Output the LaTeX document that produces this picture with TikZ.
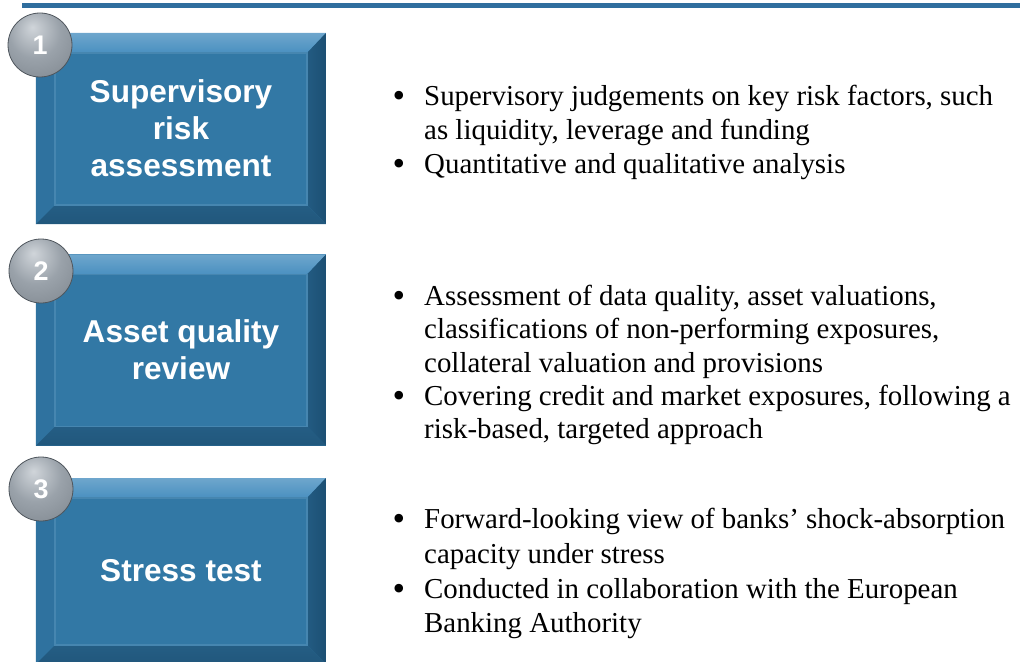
\documentclass[tikz,border=0pt]{standalone}
\usepackage{fontspec}
\setmainfont{Liberation Serif}
\newfontfamily\boxfont{Liberation Sans}
\definecolor{topline}{HTML}{2F6E9E}
\definecolor{face}{HTML}{3278A5}
\definecolor{bevtop}{HTML}{4A90C0}
\definecolor{bevleft}{HTML}{2F729F}
\definecolor{bevright}{HTML}{1C4F73}
\definecolor{bevbot}{HTML}{21577C}
\definecolor{inedge}{HTML}{4686B0}
\definecolor{silverA}{HTML}{D0D5DA}
\definecolor{silverB}{HTML}{9AA2AA}
\definecolor{silverC}{HTML}{7E868E}
\definecolor{silverD}{HTML}{4E555C}
\pgfdeclareradialshading{silverball}{\pgfpoint{-6bp}{14bp}}{%
  color(0bp)=(silverA); color(20bp)=(silverB); color(42bp)=(silverC);
  color(56bp)=(silverD); color(70bp)=(silverD)}
\begin{document}
\begin{tikzpicture}[x=1bp,y=-1bp,
  panel/.style={minimum width=290bp, minimum height=191bp, inner sep=0pt,
    fill=face, text=white, align=center,
    font=\boxfont\bfseries\fontsize{31.7}{37}\selectfont,
    path picture={
      \coordinate (NW) at (path picture bounding box.north west);
      \coordinate (NE) at (path picture bounding box.north east);
      \coordinate (SW) at (path picture bounding box.south west);
      \coordinate (SE) at (path picture bounding box.south east);
      \coordinate (iNW) at ([xshift=19bp,yshift=-20bp]NW);
      \coordinate (iNE) at ([xshift=-19bp,yshift=-20bp]NE);
      \coordinate (iSW) at ([xshift=19bp,yshift=19bp]SW);
      \coordinate (iSE) at ([xshift=-19bp,yshift=19bp]SE);
      \shade[top color=bevtop!80!white, bottom color=bevtop] (NW) -- (NE) -- (iNE) -- (iNW) -- cycle;
      \fill[bevleft] (NW) -- (iNW) -- (iSW) -- (SW) -- cycle;
      \shade[left color=bevright!70!face, right color=bevright] (NE) -- (SE) -- (iSE) -- (iNE) -- cycle;
      \shade[top color=bevbot!80!face, bottom color=bevbot] (SW) -- (iSW) -- (iSE) -- (SE) -- cycle;
      \draw[inedge, line width=1.2bp] (iNW) rectangle (iSE);
    }},
  badge/.style={circle, minimum size=64bp, inner sep=0pt, shading=silverball,
    text=white, draw=silverD, line width=0.8bp,
    font=\boxfont\bfseries\fontsize{27}{30}\selectfont},
  bul/.style={anchor=base, inner sep=0pt, font=\fontsize{36}{36}\selectfont},
  ln/.style={anchor=base west, inner sep=0pt, font=\fontsize{29}{33.5}\selectfont}
]
\useasboundingbox (0,0) rectangle (1020,662);
\fill[topline] (22,3) rectangle (1020,8);

% boxes
\node[panel] (b1) at (181,128.5) {Supervisory\\risk\\assessment};
\node[panel] (b2) at (181,350) {Asset quality\\review};
\node[panel, minimum height=186bp] (b3) at (181,571) {Stress test};

% badges
\node[badge] (n1) at (40,45) {1};
\node[badge] (n2) at (41,271) {2};
\node[badge] (n3) at (41,489) {3};

% block 1
\node[bul] (d1a) at (399,108) {\textbullet};
\node[ln] (t1a) at (424,106) {Supervisory judgements on key risk factors, such};
\node[ln] (t1b) at (424,139.5) {as liquidity, leverage and funding};
\node[bul] (d1b) at (399,175.5) {\textbullet};
\node[ln] (t1c) at (424,173.5) {Quantitative and qualitative analysis};

% block 2
\node[bul] (d2a) at (399,307) {\textbullet};
\node[ln] (t2a) at (424,305) {Assessment of data quality, asset valuations,};
\node[ln] (t2b) at (424,338.5) {classifications of non-performing exposures,};
\node[ln] (t2c) at (424,372) {collateral valuation and provisions};
\node[bul] (d2b) at (399,407) {\textbullet};
\node[ln] (t2d) at (424,405) {Covering credit and market exposures, following a};
\node[ln] (t2e) at (424,438.5) {risk-based, targeted approach};

% block 3
\node[bul] (d3a) at (399,530) {\textbullet};
\node[ln] (t3a) at (424,528) {Forward-looking view of banks’ shock-absorption};
\node[ln] (t3b) at (424,563.5) {capacity under stress};
\node[bul] (d3b) at (399,600.5) {\textbullet};
\node[ln] (t3c) at (424,598.5) {Conducted in collaboration with the European};
\node[ln] (t3d) at (424,632) {Banking Authority};
\end{tikzpicture}
\end{document}
